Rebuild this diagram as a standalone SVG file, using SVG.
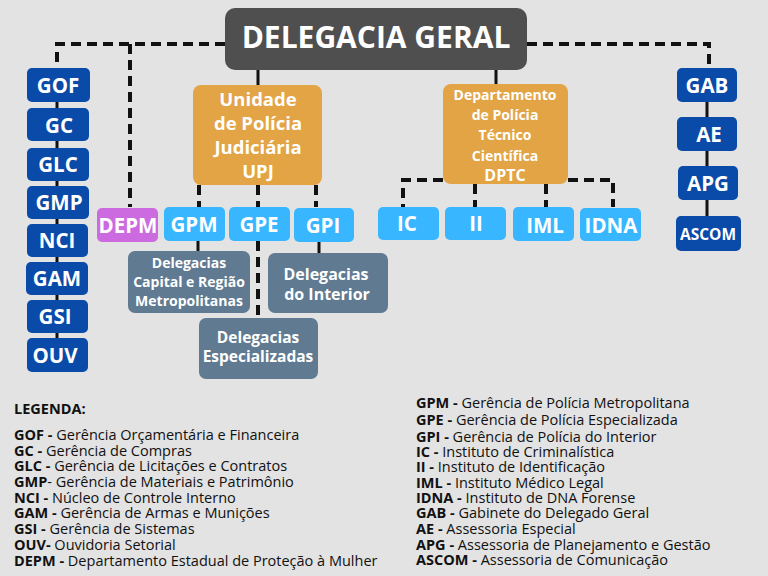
<svg xmlns="http://www.w3.org/2000/svg" width="768" height="576" viewBox="0 0 768 576">
<style>
text{font-family:"Open Sans","DejaVu Sans",sans-serif}
.w{fill:#fff;font-weight:bold;text-anchor:middle}
.db{fill:#0a4aa8}.lb{fill:#38b6ff}.or{fill:#e2a445}.sl{fill:#5f7a91}
.s{stroke:#111;stroke-width:3;fill:none}
.d{stroke:#111;stroke-width:4;fill:none;stroke-dasharray:10 6}
.n{font-size:20.5px}
.lg{font-size:14.5px;fill:#111}
.lg tspan.b{font-weight:bold}
</style>
<rect width="768" height="576" fill="#e3e3e3"/>
<g id="connectors">
<path class="d" d="M225 44H57V68M130 44V207M527 44H709V68"/>
<path class="s" d="M57 102V338M707 102V216M258 70V85M496 70V84"/>
<path class="d" d="M199 185V207M258 185V207M316 185V207M258 241V318"/>
<path class="s" d="M198 241V251M319 241V253"/>
<path class="d" d="M443 180H403V207M475 184V207M546 184V207M568 180H613V207"/>
</g>
<g id="main"><rect x="225" y="8" width="302" height="62" rx="10" fill="#4f4f4f"/><text class="w" x="376" y="48" font-size="30">DELEGACIA GERAL</text></g>
<g id="GOF"><rect class="db" x="27" y="68" width="63" height="34" rx="5"/><text class="w n" x="58" y="93">GOF</text></g>
<g id="GC"><rect class="db" x="27" y="108" width="62" height="33" rx="5"/><text class="w n" x="59" y="133">GC</text></g>
<g id="GLC"><rect class="db" x="27" y="148" width="62" height="33" rx="5"/><text class="w n" x="58" y="172">GLC</text></g>
<g id="GMP"><rect class="db" x="27" y="186" width="62" height="33" rx="5"/><text class="w n" x="59" y="210">GMP</text></g>
<g id="NCI"><rect class="db" x="27" y="224" width="61" height="33" rx="5"/><text class="w n" x="57" y="248">NCI</text></g>
<g id="GAM"><rect class="db" x="26" y="262" width="62" height="33" rx="5"/><text class="w n" x="57" y="286">GAM</text></g>
<g id="GSI"><rect class="db" x="27" y="300" width="61" height="33" rx="5"/><text class="w n" x="55" y="324">GSI</text></g>
<g id="OUV"><rect class="db" x="27" y="338" width="61" height="34" rx="5"/><text class="w n" x="55" y="363">OUV</text></g>
<g id="DEPM"><rect x="97" y="208" width="61" height="34" rx="5" fill="#cc6be0"/><text class="w n" x="128" y="233">DEPM</text></g>
<g id="UPJ"><rect class="or" x="193" y="85" width="129" height="100" rx="8"/><text class="w" font-size="18.5"><tspan x="258" y="106">Unidade</tspan><tspan x="258" y="130">de Polícia</tspan><tspan x="258" y="154">Judiciária</tspan><tspan x="258" y="178">UPJ</tspan></text></g>
<g id="GPM"><rect class="lb" x="164" y="207" width="61" height="34" rx="5"/><text class="w n" x="194" y="232">GPM</text></g>
<g id="GPE"><rect class="lb" x="229" y="207" width="61" height="34" rx="5"/><text class="w n" x="259" y="232">GPE</text></g>
<g id="GPI"><rect class="lb" x="294" y="208" width="60" height="34" rx="5"/><text class="w n" x="323" y="233">GPI</text></g>
<g id="DCap"><rect class="sl" x="128" y="251" width="122" height="62" rx="7"/><text class="w" font-size="14"><tspan x="189" y="268">Delegacias</tspan><tspan x="189" y="287">Capital e Região</tspan><tspan x="189" y="306">Metropolitanas</tspan></text></g>
<g id="DInt"><rect class="sl" x="268" y="253" width="120" height="60" rx="7"/><text class="w" font-size="16"><tspan x="326" y="280">Delegacias</tspan><tspan x="327" y="300">do Interior</tspan></text></g>
<g id="DEsp"><rect class="sl" x="199" y="318" width="119" height="61" rx="7"/><text class="w" font-size="15.5"><tspan x="258" y="343">Delegacias</tspan><tspan x="258" y="362">Especializadas</tspan></text></g>
<g id="DPTC"><rect class="or" x="443" y="84" width="125" height="100" rx="8"/><text class="w" font-size="14"><tspan x="505" y="100">Departamento</tspan><tspan x="505" y="120">de Polícia</tspan><tspan x="505" y="140">Técnico</tspan><tspan x="505" y="161">Científica</tspan><tspan x="505" y="181" font-size="16">DPTC</tspan></text></g>
<g id="IC"><rect class="lb" x="378" y="207" width="61" height="33" rx="5"/><text class="w n" x="407" y="231">IC</text></g>
<g id="II"><rect class="lb" x="445" y="207" width="61" height="33" rx="5"/><text class="w n" x="476" y="231">II</text></g>
<g id="IML"><rect class="lb" x="513" y="207" width="61" height="34" rx="5"/><text class="w n" x="545" y="233">IML</text></g>
<g id="IDNA"><rect class="lb" x="580" y="208" width="61" height="33" rx="5"/><text class="w n" x="611" y="233">IDNA</text></g>
<g id="GAB"><rect class="db" x="677" y="68" width="60" height="34" rx="5"/><text class="w n" x="707" y="93">GAB</text></g>
<g id="AE"><rect class="db" x="677" y="117" width="60" height="34" rx="5"/><text class="w n" x="709" y="142">AE</text></g>
<g id="APG"><rect class="db" x="678" y="166" width="60" height="34" rx="5"/><text class="w n" x="708" y="191">APG</text></g>
<g id="ASCOM"><rect class="db" x="676" y="216" width="65" height="35" rx="5"/><text class="w" font-size="15.5" x="708" y="240">ASCOM</text></g>
<text class="lg" font-weight="bold" font-size="15" x="14" y="414">LEGENDA:</text>
<text class="lg">
<tspan x="14" y="440"><tspan class="b">GOF - </tspan>Gerência Orçamentária e Financeira</tspan>
<tspan x="14" y="456"><tspan class="b">GC - </tspan>Gerência de Compras</tspan>
<tspan x="14" y="471"><tspan class="b">GLC - </tspan>Gerência de Licitações e Contratos</tspan>
<tspan x="14" y="487"><tspan class="b">GMP</tspan>- Gerência de Materiais e Patrimônio</tspan>
<tspan x="14" y="503"><tspan class="b">NCI - </tspan>Núcleo de Controle Interno</tspan>
<tspan x="14" y="518"><tspan class="b">GAM - </tspan>Gerência de Armas e Munições</tspan>
<tspan x="14" y="534"><tspan class="b">GSI - </tspan>Gerência de Sistemas</tspan>
<tspan x="14" y="550"><tspan class="b">OUV- </tspan>Ouvidoria Setorial</tspan>
<tspan x="14" y="566"><tspan class="b">DEPM - </tspan>Departamento Estadual de Proteção à Mulher</tspan>
</text>
<text class="lg">
<tspan x="416" y="408"><tspan class="b">GPM - </tspan>Gerência de Polícia Metropolitana</tspan>
<tspan x="416" y="425"><tspan class="b">GPE - </tspan>Gerência de Polícia Especializada</tspan>
<tspan x="416" y="442"><tspan class="b">GPI - </tspan>Gerência de Polícia do Interior</tspan>
<tspan x="416" y="457"><tspan class="b">IC - </tspan>Instituto de Criminalística</tspan>
<tspan x="416" y="472"><tspan class="b">II - </tspan>Instituto de Identificação</tspan>
<tspan x="416" y="488"><tspan class="b">IML - </tspan>Instituto Médico Legal</tspan>
<tspan x="416" y="503"><tspan class="b">IDNA - </tspan>Instituto de DNA Forense</tspan>
<tspan x="416" y="518"><tspan class="b">GAB - </tspan> Gabinete do Delegado Geral</tspan>
<tspan x="416" y="534"><tspan class="b">AE - </tspan> Assessoria Especial</tspan>
<tspan x="416" y="550"><tspan class="b">APG - </tspan>Assessoria de Planejamento e Gestão</tspan>
<tspan x="416" y="565"><tspan class="b">ASCOM - </tspan>Assessoria de Comunicação</tspan>
</text>
</svg>
